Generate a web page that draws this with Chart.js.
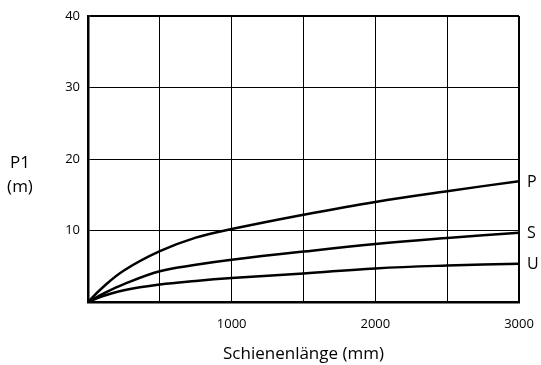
<!DOCTYPE html>
<html>
<head>
<meta charset="utf-8">
<script src="https://cdn.jsdelivr.net/npm/chart.js@4/dist/chart.umd.min.js"></script>
<style>
  html, body { margin: 0; padding: 0; background: #fff; }
  #wrap { width: 541px; height: 365px; }
</style>
</head>
<body>
<div id="wrap"><canvas id="chart" width="541" height="365"></canvas></div>
<script>
// Werte
const lengths = [0, 100, 250, 500, 750, 1000, 1500, 2000, 2500, 3000];
const seriesP = [0, 2.0, 4.4, 7.1, 9.0, 10.2, 12.2, 14.0, 15.5, 16.9];
const seriesS = [0, 1.1, 2.5, 4.3, 5.2, 5.9, 7.05, 8.1, 8.95, 9.7];
const seriesU = [0, 0.8, 1.65, 2.45, 2.95, 3.35, 4.0, 4.7, 5.1, 5.35];
const seriesNames = ['P', 'S', 'U'];
const xTickLabels = [1000, 2000, 3000];
const yTickLabels = [10, 20, 30, 40];

const FONT = "'Open Sans', 'Noto Sans', sans-serif";

function toPoints(values) {
    return lengths.map((x, i) => ({ x: x, y: values[i] }));
}

// Beschriftungen: P1 (m) links, P/S/U rechts am Kurvenende
const labelPlugin = {
    id: 'labels',
    afterDraw(chart) {
        const ctx = chart.ctx;
        ctx.save();
        ctx.fillStyle = '#000';
        ctx.font = '17px ' + FONT;
        ctx.textAlign = 'center';
        ctx.textBaseline = 'middle';
        ctx.fillText('P1', 20, 163);
        ctx.fillText('(m)', 20, 187);

        ctx.font = '16px ' + FONT;
        ctx.textAlign = 'left';
        chart.data.datasets.forEach((ds, i) => {
            const meta = chart.getDatasetMeta(i);
            const last = meta.data[meta.data.length - 1];
            ctx.fillText(seriesNames[i], last.x + 8, last.y + 1);
        });
        ctx.restore();
    }
};

const lineStyle = {
    borderColor: '#000',
    borderWidth: 2.5,
    pointRadius: 0,
    fill: false,
    tension: 0.4
};

new Chart(document.getElementById('chart'), {
    type: 'line',
    data: {
        datasets: [
            Object.assign({ label: 'P', data: toPoints(seriesP) }, lineStyle),
            Object.assign({ label: 'S', data: toPoints(seriesS) }, lineStyle),
            Object.assign({ label: 'U', data: toPoints(seriesU) }, lineStyle)
        ]
    },
    options: {
        responsive: false,
        animation: false,
        layout: { padding: { left: 0, right: 22, top: 16, bottom: 0 } },
        plugins: {
            legend: { display: false },
            tooltip: { enabled: false }
        },
        scales: {
            x: {
                type: 'linear',
                min: 0,
                max: 3000,
                afterFit: s => { s.height = 63; s.paddingLeft = 0; s.paddingRight = 0; },
                border: { display: true, color: '#000', width: 2.5 },
                grid: {
                    color: '#000',
                    drawTicks: false,
                    lineWidth: c => (c.tick && c.tick.value === 3000 ? 2 : 1)
                },
                ticks: {
                    stepSize: 500,
                    padding: 14,
                    maxRotation: 0,
                    color: '#000',
                    font: { family: FONT, size: 13 },
                    callback: v => (xTickLabels.includes(v) ? String(v) : '')
                },
                title: {
                    display: true,
                    text: 'Schienenlänge (mm)',
                    color: '#000',
                    font: { family: FONT, size: 17 },
                    padding: { top: 0, bottom: 1 }
                }
            },
            y: {
                min: 0,
                max: 40,
                afterFit: s => { s.width = 88; s.paddingTop = 0; s.paddingBottom = 0; },
                border: { display: true, color: '#000', width: 2.5 },
                grid: {
                    color: '#000',
                    drawTicks: false,
                    lineWidth: c => (c.tick && c.tick.value === 40 ? 2 : 1)
                },
                ticks: {
                    stepSize: 10,
                    padding: 8,
                    color: '#000',
                    font: { family: FONT, size: 13 },
                    callback: v => (yTickLabels.includes(v) ? String(v) : '')
                }
            }
        }
    },
    plugins: [labelPlugin]
});
</script>
</body>
</html>
